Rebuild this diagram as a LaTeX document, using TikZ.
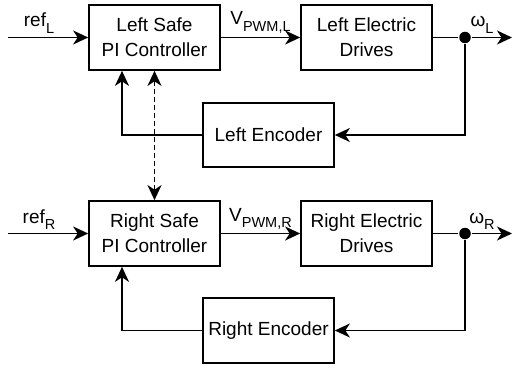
\documentclass[tikz,border=0pt]{standalone}
\usepackage{fontspec}
\setmainfont{Liberation Sans}
\usetikzlibrary{arrows.meta}
\newcommand\lowsub[1]{\raisebox{-0.32em}{\fontsize{14.5}{14.5}\selectfont #1}}
\begin{document}
\begin{tikzpicture}[x=1pt,y=-1pt,
  line width=1.7pt,
  font=\fontsize{19}{25}\selectfont,
  block/.style={draw, rectangle, minimum width=131pt, minimum height=65pt, align=center, inner sep=0pt},
  arr/.style={-{Stealth[length=15pt,width=14pt,inset=4.5pt]}},
  darr/.style={{Stealth[length=15pt,width=14pt,inset=4.5pt]}-{Stealth[length=15pt,width=14pt,inset=4.5pt]}, dash pattern=on 5pt off 3pt},
  sig/.style={anchor=base, inner sep=0pt},
  junction/.style={circle, fill, inner sep=0pt, minimum size=11.5pt}]
\useasboundingbox (0,0) rectangle (512,369);

% ---- left wheel loop ----
\node[block] (cL) at (154.5,37.5) {Left Safe\\PI Controller};
\node[block] (dL) at (366.5,37.5) {Left Electric\\Drives};
\node[block, minimum height=64pt] (eL) at (268.5,135) {Left Encoder};
\node[junction] (jL) at (465,37.5) {};
\coordinate (inL) at (8,37.5);
\coordinate (outL) at (512,37.5);

\draw[arr] (inL) -- (cL.west);
\draw[arr] (cL.east) -- (dL.west);
\draw (dL.east) -- (jL);
\draw[arr] (jL) -- (outL);
\draw[arr] (jL) |- (eL.east);
\draw[arr] (eL.west) -| ([xshift=-32.5pt]cL.south);

\node[sig] (rL) at (39,27) {ref\lowsub{L}};
\node[sig] (vL) at (260.5,25) {V\lowsub{PWM,L}};
\node[sig] (wL) at (482,27) {ω\lowsub{L}};

% ---- right wheel loop ----
\node[block] (cR) at (154.5,233.5) {Right Safe\\PI Controller};
\node[block] (dR) at (366.5,233.5) {Right Electric\\Drives};
\node[block] (eR) at (268.5,330.5) {Right Encoder};
\node[junction] (jR) at (465,233.5) {};
\coordinate (inR) at (8,233.5);
\coordinate (outR) at (512,233.5);

\draw[arr] (inR) -- (cR.west);
\draw[arr] (cR.east) -- (dR.west);
\draw (dR.east) -- (jR);
\draw[arr] (jR) -- (outR);
\draw[arr] (jR) |- (eR.east);
\draw[arr] (eR.west) -| ([xshift=-32.5pt]cR.south);

\node[sig] (rR) at (39,223) {ref\lowsub{R}};
\node[sig] (vR) at (260.5,221) {V\lowsub{PWM,R}};
\node[sig] (wR) at (482,223) {ω\lowsub{R}};

% ---- coupling between the two controllers ----
\draw[darr] (cL.south) -- (cR.north);
\end{tikzpicture}
\end{document}
